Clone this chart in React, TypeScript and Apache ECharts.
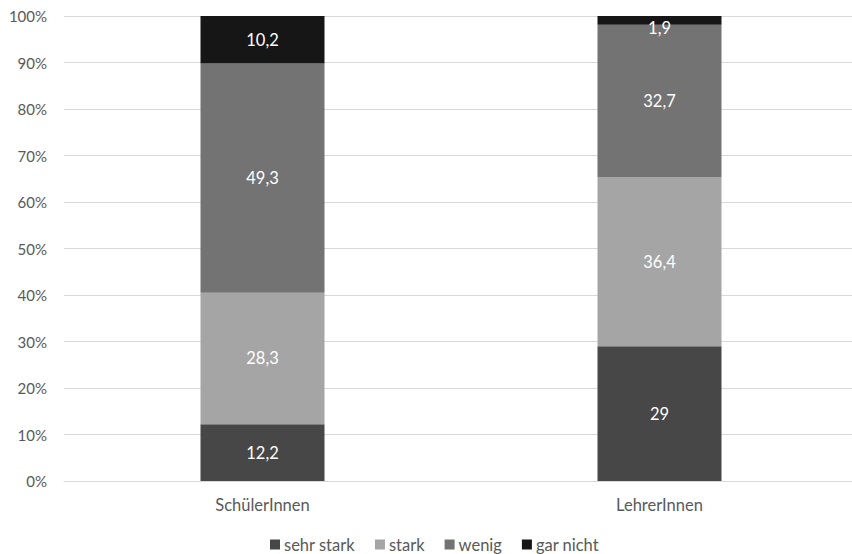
import React, { useEffect, useRef } from "react";
import * as echarts from "echarts";

const categories = ["SchülerInnen", "LehrerInnen"];
const seriesNames = ["sehr stark", "stark", "wenig", "gar nicht"];
const sehrStark = [12.2, 29];
const stark = [28.3, 36.4];
const wenig = [49.3, 32.7];
const garNicht = [10.2, 1.9];
const colors = ["#474747", "#a5a5a5", "#737373", "#161616"];
const yTicks = [0, 10, 20, 30, 40, 50, 60, 70, 80, 90, 100];

const FONT = "Lato, 'Open Sans', sans-serif";

export default function App() {
  const ref = useRef<HTMLDivElement>(null);
  useEffect(() => {
    const chart = echarts.init(ref.current!, null, { renderer: "svg" });
    const values = [sehrStark, stark, wenig, garNicht];
    chart.setOption({
      animation: false,
      textStyle: { fontFamily: FONT },
      grid: { left: 64, top: 16, width: 794, bottom: 73, containLabel: false },
      legend: {
        top: 536,
        left: 270,
        padding: 0,
        itemWidth: 10,
        itemHeight: 10,
        itemGap: 20,
        icon: "rect",
        textStyle: {
          color: "#595959",
          fontSize: 16.5,
          lineHeight: 16,
          fontFamily: FONT,
          padding: [0, 0, 0, -1],
        },
        data: seriesNames,
      },
      xAxis: {
        type: "category",
        data: categories,
        axisLine: { show: true, lineStyle: { color: "#d9d9d9" } },
        axisTick: { show: false },
        axisLabel: { color: "#595959", fontSize: 16.5, margin: 15, fontFamily: FONT },
      },
      yAxis: {
        type: "value",
        min: 0,
        max: 100,
        interval: 10,
        axisLine: { show: false },
        axisTick: { show: false },
        splitLine: { lineStyle: { color: "#d9d9d9", width: 1 } },
        axisLabel: {
          color: "#595959",
          fontSize: 15,
          margin: 17,
          fontFamily: FONT,
          formatter: (v: number) => (yTicks.includes(v) ? v + "%" : ""),
        },
      },
      series: seriesNames.map((name, i) => ({
        name,
        type: "bar",
        stack: "total",
        barWidth: 124,
        itemStyle: { color: colors[i] },
        label: {
          show: true,
          position: "inside",
          color: "#ffffff",
          fontSize: 16.5,
          fontFamily: FONT,
          formatter: (p: any) => String(p.value).replace(".", ","),
        },
        data: values[i].map((v, j) =>
          i === 3 && j === 1 ? { value: v, label: { offset: [0, 8] } } : v
        ),
      })),
    });
    return () => chart.dispose();
  }, []);
  return (
    <div style={{ position: "absolute", left: 0, top: 0, width: 852, height: 554, overflow: "hidden" }}>
      <div ref={ref} style={{ width: 860, height: 554 }} />
    </div>
  );
}
